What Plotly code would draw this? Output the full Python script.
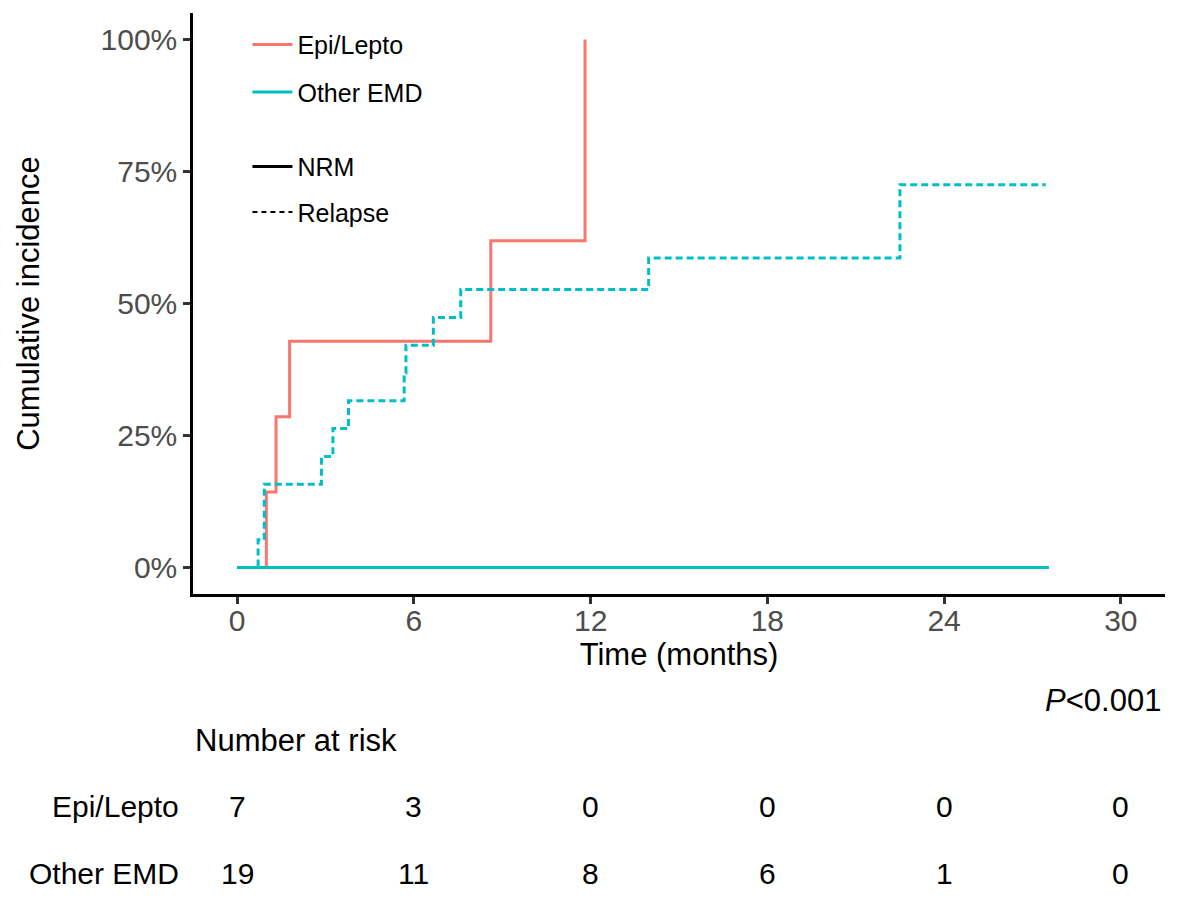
import plotly.graph_objects as go

# ---- data ----
epi_nrm_t = [0, 0.99, 1.32, 1.78, 8.61, 11.81]
epi_nrm_p = [0, 14.29, 28.57, 42.86, 61.9, 100]
epi_rel_t = [0, 11.81]
epi_rel_p = [0, 0]
oth_nrm_t = [0, 27.56]
oth_nrm_p = [0, 0]
oth_rel_t = [0, 0.71, 0.92, 2.86, 3.25, 3.78, 5.67, 5.73, 6.66, 7.59, 13.97, 22.5, 27.45]
oth_rel_p = [0, 5.26, 15.79, 21.05, 26.32, 31.58, 36.84, 42.11, 47.37, 52.63, 58.6, 72.5, 72.5]

risk_times = [0, 6, 12, 18, 24, 30]
risk_groups = ["Epi/Lepto", "Other EMD"]
risk_epi = [7, 3, 0, 0, 0, 0]
risk_oth = [19, 11, 8, 6, 1, 0]

x_ticks = [0, 6, 12, 18, 24, 30]
y_ticks = [0, 25, 50, 75, 100]
y_ticklabels = ["0%", "25%", "50%", "75%", "100%"]

RED = "#F8766D"
TEAL = "#00BFC4"
FONT = "Liberation Sans, Arial, Helvetica, sans-serif"
LW = 3
DASH = "7px,4px"

fig = go.Figure()
fig.add_trace(go.Scatter(x=epi_nrm_t, y=epi_nrm_p, mode="lines", line=dict(color=RED, width=LW, shape="hv"), showlegend=False))
fig.add_trace(go.Scatter(x=epi_rel_t, y=epi_rel_p, mode="lines", line=dict(color=RED, width=LW, shape="hv", dash=DASH), showlegend=False))
fig.add_trace(go.Scatter(x=oth_nrm_t, y=oth_nrm_p, mode="lines", line=dict(color=TEAL, width=LW, shape="hv"), showlegend=False))
fig.add_trace(go.Scatter(x=oth_rel_t, y=oth_rel_p, mode="lines", line=dict(color=TEAL, width=LW, shape="hv", dash=DASH), showlegend=False))

# legend entries
fig.add_trace(go.Scatter(x=[None], y=[None], mode="lines", name="Epi/Lepto", line=dict(color=RED, width=LW), legend="legend", legendgroup="a"))
fig.add_trace(go.Scatter(x=[None], y=[None], mode="lines", name="Other EMD", line=dict(color=TEAL, width=LW), legend="legend", legendgroup="b"))
fig.add_trace(go.Scatter(x=[None], y=[None], mode="lines", name="NRM", line=dict(color="black", width=LW), legend="legend2", legendgroup="c"))
fig.add_trace(go.Scatter(x=[None], y=[None], mode="lines", name="Relapse", line=dict(color="black", width=2, dash="5px,4px"), legend="legend2", legendgroup="d"))

# plot area in screen pixels: left 193, right 1165, top 13, bottom 594
PL, PR, PT, PB = 193, 1165, 13, 594


def py(pix):
    return (PB - pix) / float(PB - PT)


def px(pix):
    return (pix - PL) / float(PR - PL)


RISK_SIZE = 30
ann = []
for t, v in zip(risk_times, risk_epi):
    ann.append(dict(x=t, y=py(806), xref="x", yref="paper", text=str(v), showarrow=False,
                    font=dict(size=RISK_SIZE, color="black", family=FONT), xanchor="center", yanchor="middle"))
for t, v in zip(risk_times, risk_oth):
    ann.append(dict(x=t, y=py(873), xref="x", yref="paper", text=str(v), showarrow=False,
                    font=dict(size=RISK_SIZE, color="black", family=FONT), xanchor="center", yanchor="middle"))
for g, pix in zip(risk_groups, [806, 873]):
    ann.append(dict(x=px(181), y=py(pix), xref="paper", yref="paper", text=g, showarrow=False,
                    font=dict(size=RISK_SIZE, color="black", family=FONT), xanchor="right", yanchor="middle"))
ann.append(dict(x=px(193), y=py(740), xref="paper", yref="paper", text="Number at risk", showarrow=False,
                font=dict(size=31, color="black", family=FONT), xanchor="left", yanchor="middle"))
ann.append(dict(x=px(1163), y=py(700), xref="paper", yref="paper", text="<i>P</i>&lt;0.001", showarrow=False,
                font=dict(size=31, color="black", family=FONT), xanchor="right", yanchor="middle"))

# the page body adds an 8px offset; compensate in the margins
OFF = 8
fig.update_layout(
    width=1186, height=924,
    margin=dict(l=PL - OFF, r=1186 - (PR - OFF), t=PT - OFF, b=924 - (PB - OFF)),
    paper_bgcolor="white", plot_bgcolor="white",
    font=dict(family=FONT, color="black"),
    annotations=ann,
    legend=dict(x=0.056, y=0.985, xanchor="left", yanchor="top", bgcolor="rgba(0,0,0,0)",
                font=dict(size=25, family=FONT, color="black"), tracegroupgap=12, itemwidth=40),
    legend2=dict(x=0.056, y=0.775, xanchor="left", yanchor="top", bgcolor="rgba(0,0,0,0)",
                 font=dict(size=25, family=FONT, color="black"), tracegroupgap=10, itemwidth=40),
    xaxis=dict(range=[-1.5, 31.5], tickvals=x_ticks, showgrid=False, zeroline=False,
               showline=True, linecolor="black", linewidth=2.5, ticks="outside", ticklen=7,
               tickwidth=2.5, tickcolor="#333333", ticklabelstandoff=-9,
               tickfont=dict(size=30, color="#4D4D4D", family=FONT),
               title=dict(text="Time (months)", font=dict(size=31, color="black", family=FONT), standoff=6)),
    yaxis=dict(range=[-5, 105], tickvals=y_ticks, ticktext=y_ticklabels, showgrid=False, zeroline=False,
               showline=True, linecolor="black", linewidth=2.5, ticks="outside", ticklen=7,
               tickwidth=2.5, tickcolor="#333333",
               tickfont=dict(size=30, color="#4D4D4D", family=FONT),
               title=dict(text="Cumulative incidence", font=dict(size=31, color="black", family=FONT), standoff=52)),
)

fig.write_html("out.html")
